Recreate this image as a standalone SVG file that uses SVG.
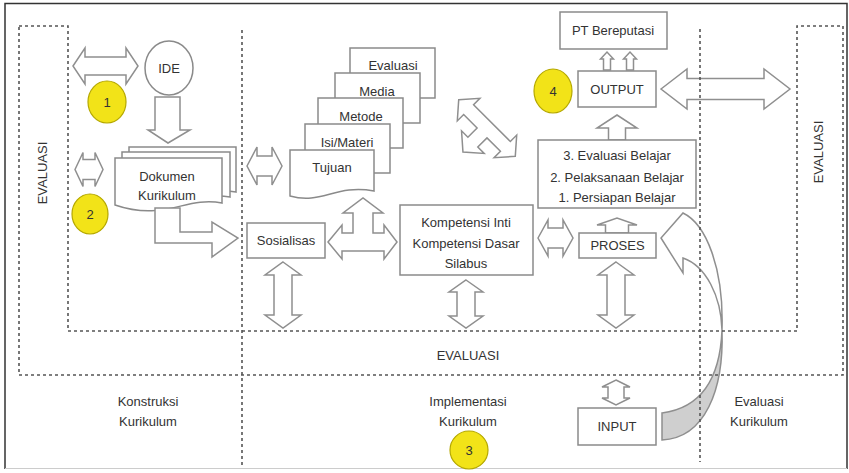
<svg xmlns="http://www.w3.org/2000/svg" width="849" height="473" viewBox="0 0 849 473">
<style>
.t{font-family:"Liberation Sans",Arial,sans-serif;font-size:13px;fill:#333;text-anchor:middle}
.box{fill:#fff;stroke:#8a8a8a;stroke-width:1.5}
.arr{fill:#fff;stroke:#8f8f8f;stroke-width:1.5;stroke-linejoin:miter}
.dash{fill:none;stroke:#555;stroke-width:1.6;stroke-dasharray:3 3}
.yc{fill:#f2e318;stroke:#b5a800;stroke-width:1.2}
</style>
<rect width="849" height="473" fill="#fff"/>
<path d="M5,469 V3.5 H847 V469" fill="none" stroke="#333" stroke-width="1.5"/>
<line x1="5" y1="468.5" x2="847" y2="468.5" stroke="#ccc" stroke-width="1.2"/>

<g id="connectors">
  <path class="arr" d="M73,66 L85,48 L85,57 L126,57 L126,48 L138,66 L126,84 L126,75 L85,75 L85,84 Z"/>
  <path class="arr" d="M155,97 H180 V130 H190 L168,143 L148,130 H155 Z"/>
  <path class="arr" d="M75,169.5 L83,152.5 L83,159.5 L95,159.5 L95,152.5 L103,169.5 L95,186.5 L95,179.5 L83,179.5 L83,186.5 Z"/>
  <path class="arr" d="M247,166 L257,147 L257,156 L272,156 L272,147 L282,166 L272,185 L272,176 L257,176 L257,185 Z"/>
  <path class="arr" d="M328,242 L342,225 L342,233 L353,233 L353,213 L343,213 L363,198 L383,213 L373,213 L373,233 L384,233 L384,225 L397,242 L384,259 L384,251 L342,251 L342,259 Z"/>
  <path class="arr" transform="rotate(45 487 128) translate(487 128)" d="M-40,0 L-26,-16 L-26,-7 L26,-7 L26,-16 L40,0 L26,16 L26,7 L7,7 L7,20 L16,20 L0,34 L-16,20 L-7,20 L-7,7 L-26,7 L-26,16 Z"/>
  <path class="arr" d="M283,262 L301,275 L292,275 L292,315 L301,315 L283,328 L265,315 L274,315 L274,275 L265,275 Z"/>
  <path class="arr" d="M466,280 L483,292 L475,292 L475,316 L483,316 L466,328 L449,316 L457,316 L457,292 L449,292 Z"/>
  <path class="arr" d="M538,238 L548,220 L548,228 L563,228 L563,220 L573,238 L563,256 L563,248 L548,248 L548,256 Z"/>
  <path class="arr" d="M616,262 L634,275 L625,275 L625,315 L634,315 L616,328 L598,315 L607,315 L607,275 L598,275 Z"/>
  <path class="arr" d="M616,380 L630,387 L624,387 L624,398 L630,398 L616,405 L602,398 L608,398 L608,387 L602,387 Z"/>
  <path class="arr" d="M605.5,233 V225 H597 L617,218 L637,225 H628.5 V233 Z"/>
  <path class="arr" d="M608.5,140 V128 H597 L617,115 L637,128 H625.5 V140 Z"/>
  <path class="arr" d="M603.5,70 V59 H600.5 L607,52 L613.5,59 H610.5 V70 Z"/>
  <path class="arr" d="M626.5,70 V59 H623.5 L630,52 L636.5,59 H633.5 V70 Z"/>
  <path class="arr" d="M661,89 L687,69 L687,78.5 L764,78.5 L764,69 L790,89 L764,109 L764,99.5 L687,99.5 L687,109 Z"/>
  <path d="M722,330 C720,380 700,408 662,413 L662,440 C705,438 724,390 722,330 Z" fill="#cfcfcf" stroke="#8f8f8f" stroke-width="1.5"/>
  <path class="arr" d="M722,330 C721,296 706,266 683,258 L683,273 L661,238 L683,213 C706,224 724,268 722,330 Z"/>
</g>

<g id="node-ide">
  <ellipse cx="169" cy="68" rx="24" ry="27" class="box"/>
  <text class="t" x="169" y="72.5">IDE</text>
</g>
<g id="node-1"><ellipse class="yc" cx="107" cy="102" rx="19" ry="21"/><text class="t" x="107" y="106.5">1</text></g>

<g id="node-dokumen">
  <path class="box" d="M129,147 H236 V192 C200,186 175,210 129,196 Z"/>
  <path class="box" d="M122,152 H230 V197 C192,191 170,216 122,201 Z"/>
  <path class="box" d="M115,158 H222 V203 C185,196 165,222 115,205 Z"/>
  <text class="t" x="167" y="180.5">Dokumen</text>
  <text class="t" x="167" y="199.5">Kurikulum</text>
</g>
<g id="connector-bent">
  <path class="arr" d="M155,208 L180,208 L180,232 L212,232 L212,222 L238,238 L212,257 L212,243 L155,243 Z"/>
</g>
<g id="node-2"><ellipse class="yc" cx="90" cy="214" rx="18" ry="20"/><text class="t" x="90" y="218.5">2</text></g>

<g id="node-stack">
  <rect class="box" x="350" y="48" width="85" height="50"/>
  <text class="t" x="393" y="69.5">Evaluasi</text>
  <rect class="box" x="335" y="73" width="85" height="50"/>
  <text class="t" x="377" y="95.5">Media</text>
  <rect class="box" x="318" y="98" width="85" height="50"/>
  <text class="t" x="361" y="120.5">Metode</text>
  <rect class="box" x="305" y="124" width="85" height="49"/>
  <text class="t" x="347" y="146.5">Isi/Materi</text>
  <path class="box" d="M290,150 H374 V191 C335,184 322,205 290,196 Z"/>
  <text class="t" x="332" y="171.5">Tujuan</text>
</g>

<g id="node-sosialisas">
  <rect class="box" x="247" y="223" width="78" height="35"/>
  <text class="t" x="286" y="245">Sosialisas</text>
</g>
<g id="node-kompetensi">
  <rect class="box" x="400" y="205" width="133" height="70"/>
  <text class="t" x="466" y="226.5">Kompetensi Inti</text>
  <text class="t" x="466" y="247.5">Kompetensi Dasar</text>
  <text class="t" x="466" y="267.5">Silabus</text>
</g>
<g id="node-pt">
  <rect class="box" x="560" y="12" width="107" height="37"/>
  <text class="t" x="613" y="35">PT Bereputasi</text>
</g>
<g id="node-output">
  <rect class="box" x="578" y="71" width="78" height="36"/>
  <text class="t" x="617" y="93.5">OUTPUT</text>
</g>
<g id="node-4"><ellipse class="yc" cx="553" cy="91" rx="19" ry="22"/><text class="t" x="553" y="95.5">4</text></g>
<g id="node-belajar">
  <rect class="box" x="538" y="140" width="158" height="68"/>
  <text class="t" x="617" y="159.5">3. Evaluasi Belajar</text>
  <text class="t" x="617" y="181.5">2. Pelaksanaan Belajar</text>
  <text class="t" x="617" y="201.5">1. Persiapan Belajar</text>
</g>
<g id="node-proses">
  <rect class="box" x="579" y="233" width="77" height="25"/>
  <text class="t" x="617.5" y="250">PROSES</text>
</g>
<g id="node-input">
  <rect class="box" x="578" y="408" width="78" height="37"/>
  <text class="t" x="617" y="431">INPUT</text>
</g>

<g id="regions">
  <path class="dash" d="M19,26 H68 V331 H797 V26 H843 V375 H19 Z"/>
  <line class="dash" x1="242" y1="30" x2="242" y2="468"/>
  <line class="dash" x1="700" y1="29" x2="700" y2="462"/>
  <text class="t" transform="rotate(-90 47 173)" x="47" y="173">EVALUASI</text>
  <text class="t" transform="rotate(-90 823 152)" x="823" y="152">EVALUASI</text>
  <text class="t" x="468" y="360">EVALUASI</text>
  <text class="t" x="148" y="406">Konstruksi</text>
  <text class="t" x="148" y="426">Kurikulum</text>
  <text class="t" x="468" y="406">Implementasi</text>
  <text class="t" x="468" y="426">Kurikulum</text>
  <text class="t" x="759" y="406">Evaluasi</text>
  <text class="t" x="759" y="426">Kurikulum</text>
</g>
<g id="node-3"><ellipse class="yc" cx="469" cy="450" rx="19" ry="19"/><text class="t" x="469" y="454.5">3</text></g>
</svg>
